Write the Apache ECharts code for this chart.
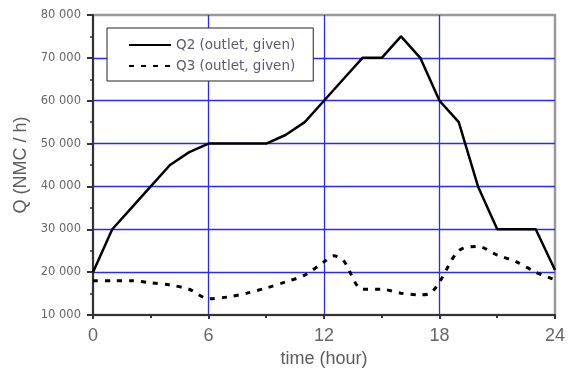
<!DOCTYPE html>
<html>
<head>
<meta charset="utf-8">
<script src="https://cdn.jsdelivr.net/npm/echarts@6/dist/echarts.min.js"></script>
<style>
  html, body { margin: 0; padding: 0; background: #fff; }
  #main { width: 568px; height: 373px; }
</style>
</head>
<body>
<div id="main"></div>
<script>
// hours and flows
var hours2 = [0, 1, 2, 3, 4, 5, 6, 7, 8, 9, 10, 11, 12, 13, 14, 15, 16, 17, 18, 19, 20, 21, 22, 23, 24];
var q2 = [20000, 30000, 35000, 40000, 45000, 48000, 50000, 50000, 50000, 50000, 52000, 55000, 60000, 65000, 70000, 70000, 75000, 70000, 60000, 55000, 40000, 30000, 30000, 30000, 20500];

var hours3 = [0, 1, 2, 3, 4, 5, 6, 7, 8, 9, 10, 11, 12, 12.5, 13, 14, 15, 16, 17, 17.5, 18, 19, 20, 21, 22, 23, 24];
var q3 = [18000, 18000, 18000, 17500, 17000, 16000, 13800, 14200, 15100, 16300, 17700, 19300, 22400, 23800, 22800, 16000, 16000, 15100, 14700, 15000, 17700, 25000, 26000, 24000, 22400, 20000, 18200];

var seriesNames = ['Q2 (outlet, given)', 'Q3 (outlet, given)'];

function pairs(xs, ys) {
  return xs.map(function (x, i) { return [x, ys[i]]; });
}

var myChart = echarts.init(document.getElementById('main'));

var textGrey = '#5c5c5c';
var gridBlue = '#2b2bf0';

var option = {
  animation: false,
  grid: {
    left: 93, right: 12, top: 15, bottom: 58,
    show: true,
    borderColor: '#999',
    borderWidth: 2.5
  },
  legend: {
    orient: 'vertical',
    left: 107,
    top: 28,
    itemWidth: 42,
    itemHeight: 13,
    itemGap: 7,
    padding: [10, 18, 8, 21],
    borderColor: '#222',
    borderWidth: 1,
    backgroundColor: '#fff',
    itemStyle: { opacity: 0 },
    textStyle: { color: '#5a5a6a', fontSize: 13.5, fontFamily: 'DejaVu Sans' },
    data: seriesNames
  },
  xAxis: {
    type: 'value',
    min: 0, max: 24, interval: 6,
    name: 'time (hour)',
    nameLocation: 'middle',
    nameGap: 32,
    nameTextStyle: { color: textGrey, fontSize: 18, fontFamily: 'Liberation Sans' },
    axisLine: { lineStyle: { color: '#333', width: 2 } },
    axisTick: { length: 4, lineStyle: { color: '#333', width: 2 } },
    minorTick: { show: true, splitNumber: 2, length: 3, lineStyle: { color: '#333', width: 2 } },
    axisLabel: { color: '#666', fontSize: 18, margin: 12, fontFamily: 'Liberation Sans' },
    splitLine: { show: true, showMinLine: false, showMaxLine: false, lineStyle: { color: gridBlue, width: 1.3 } }
  },
  yAxis: {
    type: 'value',
    min: 10000, max: 80000, interval: 10000,
    name: 'Q (NMC / h)',
    nameLocation: 'middle',
    nameGap: 63,
    nameTextStyle: { color: textGrey, fontSize: 18, fontFamily: 'Liberation Sans' },
    axisLine: { show: true, lineStyle: { color: '#333', width: 2 } },
    axisTick: { length: 6, lineStyle: { color: '#333', width: 2 } },
    minorTick: { show: true, splitNumber: 2, length: 3, lineStyle: { color: '#333', width: 1.5 } },
    axisLabel: {
      color: '#666', fontSize: 11.5, margin: 12, fontFamily: 'DejaVu Sans',
      formatter: function (v) { return String(v).replace(/\B(?=(\d{3})+(?!\d))/g, ' '); }
    },
    splitLine: { show: true, showMinLine: false, showMaxLine: false, lineStyle: { color: gridBlue, width: 1.3 } }
  },
  series: [
    {
      name: seriesNames[0],
      type: 'line',
      data: pairs(hours2, q2),
      symbol: 'none',
      lineStyle: { color: '#000', width: 2.5 },
      itemStyle: { color: '#000' }
    },
    {
      name: seriesNames[1],
      type: 'line',
      data: pairs(hours3, q3),
      symbol: 'none',
      smooth: 0.3,
      lineStyle: { color: '#000', width: 3, type: [5, 7] },
      itemStyle: { color: '#000' }
    }
  ]
};

myChart.setOption(option);
</script>
</body>
</html>
